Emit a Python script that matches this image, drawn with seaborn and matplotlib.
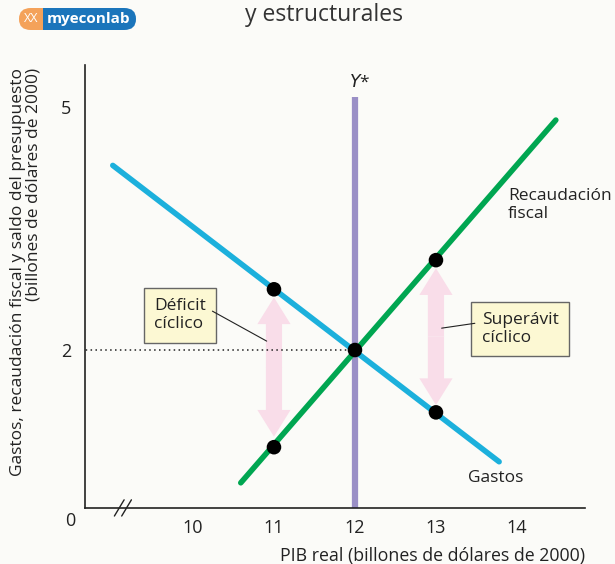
import matplotlib
matplotlib.use("Agg")
import matplotlib.pyplot as plt
import matplotlib.patches as mpatches
import seaborn as sns
import pandas as pd

sns.set_theme(style="white")
plt.rcParams['font.family'] = ['Open Sans', 'DejaVu Sans']

# data (billions of 2000 dollars)
gastos_x = [9.01, 13.78]
gastos_y = [4.28, 0.62]
recaud_x = [10.59, 14.48]
recaud_y = [0.36, 4.84]
y_star = 12
y_star_top = 5.12
equil_y = 2.0
dots_x = [11, 11, 12, 13, 13]
dots_y = [2.75, 0.80, 2.0, 3.11, 1.23]
# cyclical deficit / surplus arrows: x, lower tip, upper tip
arrow_x = [11, 13]
arrow_lo = [0.93, 1.32]
arrow_hi = [2.65, 3.01]
xticks = [10, 11, 12, 13, 14]
yticks = [2, 5]

blue = '#1cb0dc'
green = '#00a651'
purple = '#9a8fc6'
pink = '#f9dde9'
boxfill = '#fcf8d3'
bg = '#fbfbf8'

fig = plt.figure(figsize=(6.15, 5.64), dpi=100, facecolor=bg)
ax = fig.add_axes([85/615, 1-508/564, 500/615, 443/564])
ax.set_facecolor(bg)

# arrows first so lines sit on top
for x, lo, hi in zip(arrow_x, arrow_lo, arrow_hi):
    mid = (lo + hi) / 2
    for tip in (lo, hi):
        ax.add_patch(mpatches.FancyArrow(x, mid, 0, tip - mid, width=0.2, head_width=0.41,
                                         head_length=0.33, length_includes_head=True,
                                         color=pink, lw=0, zorder=1))

ax.plot([8.5, y_star], [equil_y, equil_y], ls=(0, (1, 2.2)),
        color='#222222', lw=1.1, zorder=1)
ax.plot([y_star, y_star], [0, y_star_top], color=purple, lw=4.5, solid_capstyle='butt', zorder=2)

lines = pd.DataFrame({'x': gastos_x + recaud_x, 'y': gastos_y + recaud_y,
                      'serie': ['Gastos'] * 2 + ['Recaudación fiscal'] * 2})
sns.lineplot(data=lines, x='x', y='y', hue='serie', palette=[blue, green], lw=4,
             legend=False, ax=ax, zorder=3)
sns.scatterplot(x=dots_x, y=dots_y, color='black', s=110, edgecolor='none', ax=ax, zorder=5)

ax.set_xlim(8.667, 14.84)
ax.set_ylim(0.049, 5.52)
ax.set_xticks(xticks)
ax.set_yticks(yticks)
ax.tick_params(axis='both', direction='in', colors='#222222', labelsize=13, width=1)
ax.tick_params(axis='x', length=6, pad=8)
ax.tick_params(axis='y', length=3, pad=10)
for s in ['top', 'right']:
    ax.spines[s].set_visible(False)
for s in ['left', 'bottom']:
    ax.spines[s].set_color('#222222')
    ax.spines[s].set_linewidth(1.2)

ax.set_xlabel('PIB real (billones de dólares de 2000)', loc='right', fontsize=12.8,
              color='#222222', labelpad=7)
ax.set_ylabel('')
fig.text(26/615, 1-272/564, 'Gastos, recaudación fiscal y saldo del presupuesto\n(billones de dólares de 2000)',
         rotation=90, ha='center', va='center', multialignment='right', fontsize=12.5,
         color='#222222', linespacing=1.0)
fig.text(70/615, 1-521/564, '0', ha='center', va='center', fontsize=13, color='#222222')

# axis break marks
for dx in (0, 0.09):
    ax.plot([9.03 + dx, 9.15 + dx], [-0.05, 0.15], color='#222222', lw=1, clip_on=False, zorder=6)

txt = dict(fontsize=12.5, color='#222222')
ax.text(12.06, 5.31, r'$\mathit{Y}$*', ha='center', va='center', **txt)
ax.text(13.89, 3.79, 'Recaudación\nfiscal', ha='left', va='center', linespacing=1.1, **txt)
ax.text(13.4, 0.42, 'Gastos', ha='left', va='center', **txt)

box = dict(boxstyle='square,pad=0.6', fc=boxfill, ec='#666666', lw=1)
ax.text(9.84, 2.43, 'Déficit\ncíclico', ha='center', va='center', multialignment='left',
        bbox=box, linespacing=1.15, **txt)
ax.text(14.04, 2.26, 'Superávit\ncíclico', ha='center', va='center', multialignment='left',
        bbox=box, linespacing=1.15, **txt)
ax.plot([10.24, 10.91], [2.48, 2.11], color='#222222', lw=0.8, zorder=4)
ax.plot([13.48, 13.07], [2.33, 2.27], color='#222222', lw=0.8, zorder=4)

# header
fig.text(245/615, 1-15/564, 'y estructurales', ha='left', va='center', fontsize=16.5,
         color='#333333')
fig.patches.append(mpatches.FancyBboxPatch((19/615, 1-30/564), 50/615, 22/564,
                   boxstyle='round,pad=0,rounding_size=0.019', fc='#f4a25a', ec='none',
                   transform=fig.transFigure, figure=fig))
fig.patches.append(mpatches.FancyBboxPatch((60/615, 1-30/564), 76/615, 22/564,
                   boxstyle='round,pad=0,rounding_size=0.019', fc='#1b75bb', ec='none',
                   transform=fig.transFigure, figure=fig))
fig.patches.append(mpatches.Rectangle((43/615, 1-30/564), 50/615, 22/564, fc='#1b75bb',
                   ec='none', transform=fig.transFigure, figure=fig))
fig.text(31/615, 1-19/564, 'XX', ha='center', va='center', fontsize=9, color='white')
fig.text(89/615, 1-19/564, 'myeconlab', ha='center', va='center', fontsize=11,
         color='white', fontweight='bold')

fig.savefig('out.png', dpi=100, facecolor=bg)
